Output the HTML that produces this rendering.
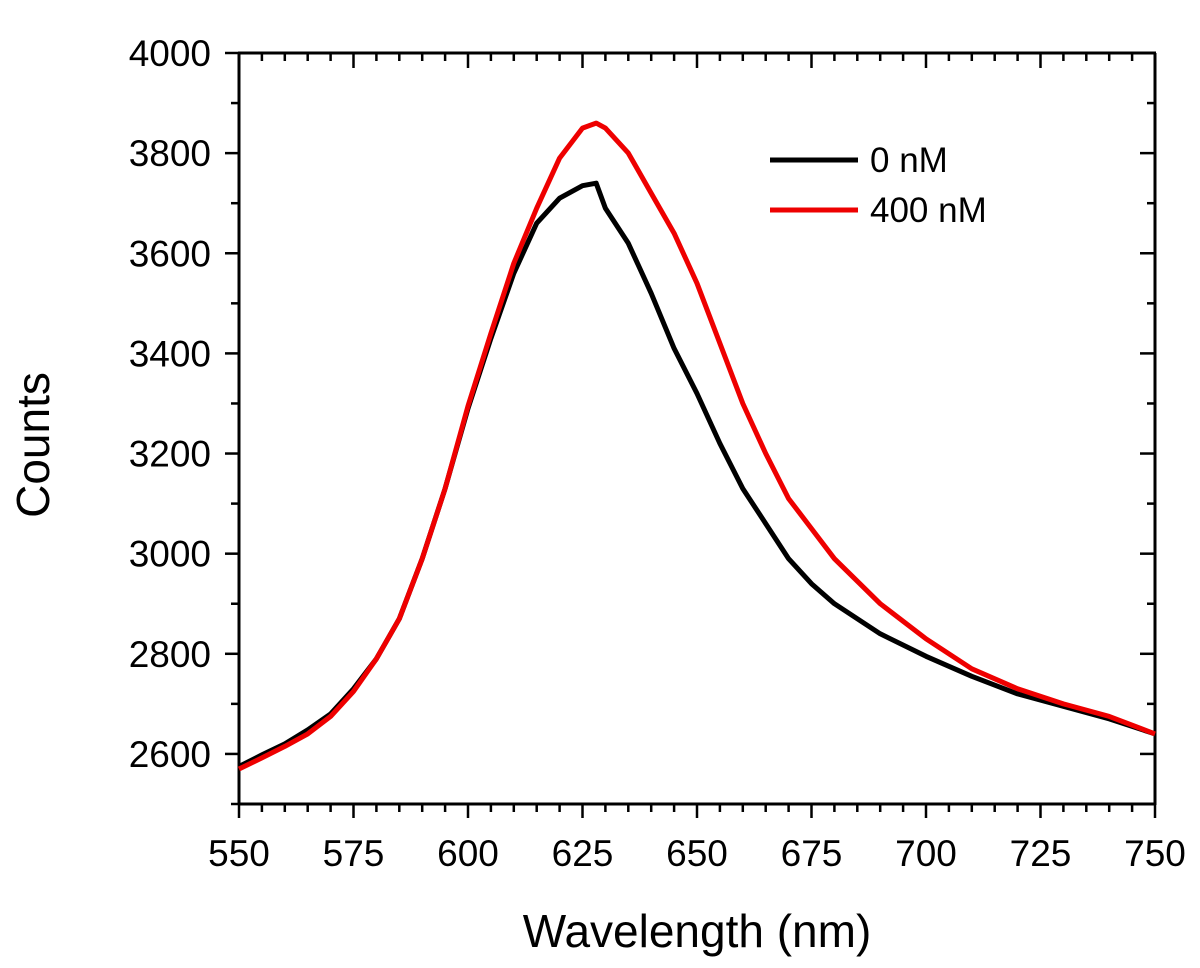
<!DOCTYPE html>
<html><head><meta charset="utf-8"><style>
body{margin:0;background:#fff;}
svg text{font-family:"Liberation Sans",Arial,sans-serif;fill:#000;}
</style></head><body>
<svg id="chart" width="1200" height="963" xmlns="http://www.w3.org/2000/svg">
<g id="axes"></g>
<g id="series"></g>
<g>
<line x1="770" y1="160" x2="858" y2="160" stroke="#000" stroke-width="5"/>
<text x="870" y="172" font-size="35">0 nM</text>
<line x1="770" y1="210" x2="858" y2="210" stroke="#e00" stroke-width="5"/>
<text x="870" y="222" font-size="35">400 nM</text>
</g>
<text x="697" y="947" font-size="46" text-anchor="middle">Wavelength (nm)</text>
<text transform="translate(49,445) rotate(-90)" font-size="46" text-anchor="middle">Counts</text>
</svg>
<script>
const wavelengths=[550,555,560,565,570,575,580,585,590,595,600,605,610,615,620,625,628,630,635,640,645,650,655,660,665,670,675,680,690,700,710,720,730,740,750];
const counts0nM=[2575,2598,2620,2648,2680,2730,2790,2870,2990,3130,3290,3430,3560,3660,3710,3735,3740,3690,3620,3520,3410,3320,3220,3130,3060,2990,2940,2900,2840,2795,2755,2720,2695,2670,2640];
const counts400nM=[2570,2592,2615,2640,2675,2725,2790,2870,2990,3130,3295,3440,3580,3690,3790,3850,3860,3850,3800,3720,3640,3540,3420,3300,3200,3110,3050,2990,2900,2830,2770,2730,2700,2675,2640];
const xTicks=[550,575,600,625,650,675,700,725,750];
const yTicks=[2600,2800,3000,3200,3400,3600,3800,4000];
const L=239,R=1155,T=53,B=804,XMIN=550,XMAX=750,YMIN=2500,YMAX=4000;
const xs=v=>L+(v-XMIN)/(XMAX-XMIN)*(R-L);
const ys=v=>B-(v-YMIN)/(YMAX-YMIN)*(B-T);
const NS="http://www.w3.org/2000/svg";
const ax=document.getElementById('axes');
function ln(x1,y1,x2,y2,w,name){const l=document.createElementNS(NS,'line');
l.setAttribute('x1',x1);l.setAttribute('y1',y1);l.setAttribute('x2',x2);l.setAttribute('y2',y2);
l.setAttribute('stroke','#000');l.setAttribute('stroke-width',w);


ax.appendChild(l);}
ln(L,T,L,B+1,3,'y-axis-line');ln(R,T,R,B+1,3,'right-axis-line');
ln(L-1,T,R+1,T,3,'top-axis-line');ln(L-1,B,R+1,B,3,'x-axis-line');
for(let v=XMIN;v<=XMAX;v+=5){const maj=(v%25===0);const x=xs(v);
ln(x,B,x,B+(maj?14:8),2.5,'x-tick');ln(x,T,x,T+(maj?15:8),2.5,'top-tick');}
for(let v=YMIN;v<=YMAX;v+=100){const maj=(v%200===0);const y=ys(v);
ln(L-(maj?14:8),y,L,y,2.5,'y-tick');ln(R-(maj?15:8),y,R,y,2.5,'right-tick');}
xTicks.forEach(v=>{const t=document.createElementNS(NS,'text');t.setAttribute('x',xs(v));t.setAttribute('y',B+62);
t.setAttribute('font-size','37');t.setAttribute('text-anchor','middle');t.textContent=v;


ax.appendChild(t);});
yTicks.forEach(v=>{const t=document.createElementNS(NS,'text');t.setAttribute('x',L-28);t.setAttribute('y',ys(v)+13);
t.setAttribute('font-size','37');t.setAttribute('text-anchor','end');t.textContent=v;


ax.appendChild(t);});
const sg=document.getElementById('series');
function series(vals,color,name){const p=document.createElementNS(NS,'path');
p.setAttribute('d',vals.map((v,i)=>(i?'L':'M')+xs(wavelengths[i]).toFixed(1)+','+ys(v).toFixed(1)).join(''));
p.setAttribute('fill','none');p.setAttribute('stroke',color);p.setAttribute('stroke-width','5');p.setAttribute('stroke-linejoin','round');


sg.appendChild(p);}
series(counts0nM,'#000','series-0nm');
series(counts400nM,'#e00','series-400nm');
</script>
</body></html>
